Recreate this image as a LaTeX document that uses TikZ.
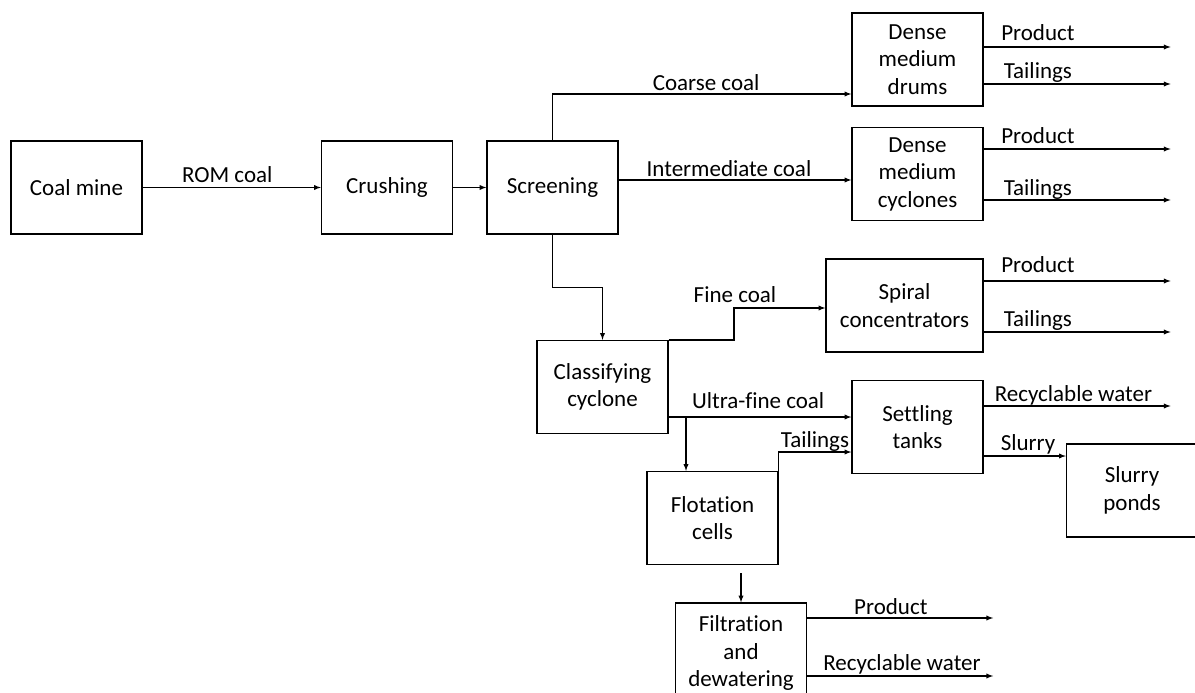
\documentclass[tikz,border=0pt]{standalone}
\usepackage{fontspec}
\setmainfont{Carlito}[Ligatures=NoCommon]
\usetikzlibrary{arrows,calc}

\begin{document}
\begin{tikzpicture}[x=1pt,y=-1pt,line width=1.3pt,
  every node/.style={font=\fontsize{23}{27.5}\selectfont},
  unit/.style={draw,align=center,minimum width=131,minimum height=93,inner sep=0pt},
  flow/.style={-latex},
  lbl/.style={anchor=base,yshift=#1,inner sep=0pt},
  lbl/.default=5.5pt]

\useasboundingbox (0,0) rectangle (1195,693);

\node[unit] (mine) at (76.5,187.5) {Coal mine};
\node[unit] (crush) at (387,187.5) {Crushing};
\node[unit] (screen) at (552.5,187.5) {Screening};
\node[unit] (drums) at (917.5,59.5) {Dense\\medium\\drums};
\node[unit] (cyclones) at (917.5,174) {Dense\\medium\\cyclones};
\node[unit,minimum width=157] (spiral) at (904.5,305.5) {Spiral\\concentrators};
\node[unit] (classify) at (602.5,387) {Classifying\\cyclone};
\node[unit] (settle) at (917.5,427) {Settling\\tanks};
\node[unit] (ponds) at (1132,490.5) {Slurry\\ponds};
\node[unit] (flot) at (712.5,518) {Flotation\\cells};
\node[unit,minimum height=100] (filt) at (741,653) {Filtration\\and\\dewatering};

\coordinate (midin) at ([yshift=7.5pt]screen.east);
\coordinate (finestep) at (734,308);
\coordinate (ufsplit) at (686,417);
\coordinate (slurryout) at ([yshift=-29pt]settle.east);

\draw[flow] (mine) -- (crush) node[lbl,pos=0.475] {ROM coal};
\draw[flow] (crush) -- (screen);
\draw[flow] (screen.north) |- ([yshift=-34.5pt]drums.west) node[lbl=3pt,pos=0.757] {Coarse coal};
\draw[flow] (midin) -- (midin -| cyclones.west) node[lbl=4pt,pos=0.474] {Intermediate coal};
\draw[flow] (screen.south) -- ++(0,53) -| (classify.north);
\draw[flow] (classify.north east) -| (finestep) node[lbl=6pt,xshift=1pt] {Fine coal} -- (finestep -| spiral.west);
\draw[flow] (classify.east |- ufsplit) -- (settle.west |- ufsplit) node[lbl=9pt,pos=0.49] {Ultra-fine coal};
\draw[flow] (ufsplit) -- (ufsplit |- flot.north);
\draw[flow] (flot.north east) |- ([yshift=-25pt]settle.west) node[lbl=5pt,pos=0.75] {Tailings};
\draw[flow] ([yshift=21pt]settle.east) -- ++(187,0) node[lbl=5pt,pos=0.48] {Recyclable water};
\draw[flow] (slurryout) -- (slurryout -| ponds.west) node[lbl=6pt,pos=0.54] {Slurry};
\draw[flow] ($(flot.south -| filt.north)+(0,8)$) -- (filt.north);

\draw[flow] ([yshift=12.5pt]drums.east) -- ++(187,0) node[lbl=6pt,pos=0.29] {Product};
\draw[flow] ([yshift=-24.5pt]drums.east) -- ++(187,0) node[lbl=5pt,pos=0.29] {Tailings};
\draw[flow] ([yshift=25pt]cyclones.east) -- ++(187,0) node[lbl=6pt,pos=0.29] {Product};
\draw[flow] ([yshift=-26pt]cyclones.east) -- ++(187,0) node[lbl=5pt,pos=0.29] {Tailings};
\draw[flow] ([yshift=24.5pt]spiral.east) -- ++(187,0) node[lbl=9pt,pos=0.29] {Product};
\draw[flow] ([yshift=-26.5pt]spiral.east) -- ++(187,0) node[lbl=6pt,pos=0.29] {Tailings};
\draw[flow] ([yshift=35pt]filt.east) -- ++(186,0) node[lbl=4pt,pos=0.45] {Product};
\draw[flow] ([yshift=-23pt]filt.east) -- ++(186,0) node[lbl=6pt,pos=0.51] {Recyclable water};

\end{tikzpicture}
\end{document}
